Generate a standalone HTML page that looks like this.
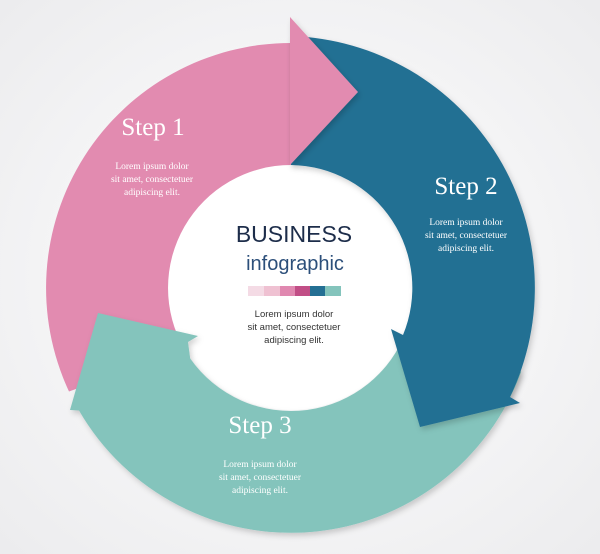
<!DOCTYPE html>
<html><head><meta charset="utf-8"><style>
html,body{margin:0;padding:0;width:600px;height:554px;overflow:hidden;background:#f6f6f7}
svg{display:block}
</style></head><body>
<svg width="600" height="554" viewBox="0 0 600 554" xmlns="http://www.w3.org/2000/svg">
<defs>
<radialGradient id="bg" cx="50%" cy="50%" r="70%"><stop offset="0" stop-color="#ffffff"/><stop offset="1" stop-color="#ececee"/></radialGradient>
<filter id="sh" x="-20%" y="-20%" width="140%" height="140%"><feDropShadow dx="2" dy="3" stdDeviation="3" flood-color="#000" flood-opacity="0.18"/></filter>
</defs>
<rect width="600" height="554" fill="url(#bg)"/>
<circle cx="291" cy="287" r="123" fill="#ffffff"/>
<!-- pink band -->
<path d="M69,391.5 A245 245 0 0 1 291,43 L291,165 A123 123 0 0 0 184.5,349.5 Z" fill="#e28bb0"/>
<!-- teal band with end -->
<path d="M521.2,371.8 A245 245 0 0 1 79,410.5 L70,410 L98,313 L198,336 L188,342 L190.2,358.5 A123 123 0 0 0 406.6,330 Z" fill="#84c4bc" filter="url(#sh)"/>
<!-- blue band with end -->
<path d="M291,36 A252 252 0 0 1 510,397 L520,403 L420,427 L391,329 L403,335 A123 123 0 0 0 291,165 Z" fill="#246f93" filter="url(#sh)"/>
<!-- pink head -->
<polygon points="290,17 358,92 290,165" fill="#e28bb0" filter="url(#sh)"/>

<g font-family="Liberation Serif, serif" fill="#ffffff" text-anchor="middle">
<text x="153" y="135" font-size="25">Step 1</text>
<text x="152" y="169" font-size="9.5">Lorem ipsum dolor</text>
<text x="152" y="182" font-size="9.5">sit amet, consectetuer</text>
<text x="152" y="195" font-size="9.5">adipiscing elit.</text>
<text x="466" y="194" font-size="25">Step 2</text>
<text x="466" y="225" font-size="9.5">Lorem ipsum dolor</text>
<text x="466" y="238" font-size="9.5">sit amet, consectetuer</text>
<text x="466" y="251" font-size="9.5">adipiscing elit.</text>
<text x="260" y="433" font-size="25">Step 3</text>
<text x="260" y="467" font-size="9.5">Lorem ipsum dolor</text>
<text x="260" y="480" font-size="9.5">sit amet, consectetuer</text>
<text x="260" y="493" font-size="9.5">adipiscing elit.</text>
</g>
<g font-family="Liberation Sans, sans-serif" text-anchor="middle">
<text x="294" y="242" font-size="23" fill="#1d2d4a">BUSINESS</text>
<text x="295" y="270" font-size="20" fill="#2c4f7a">infographic</text>
<text x="294" y="317" font-size="9.5" fill="#333">Lorem ipsum dolor</text>
<text x="294" y="330" font-size="9.5" fill="#333">sit amet, consectetuer</text>
<text x="294" y="343" font-size="9.5" fill="#333">adipiscing elit.</text>
</g>
<rect x="248" y="286" width="16" height="10" fill="#f4dbe5"/>
<rect x="264" y="286" width="16" height="10" fill="#efc1d2"/>
<rect x="280" y="286" width="15" height="10" fill="#e088b0"/>
<rect x="295" y="286" width="15" height="10" fill="#c14e86"/>
<rect x="310" y="286" width="15" height="10" fill="#246f93"/>
<rect x="325" y="286" width="16" height="10" fill="#84c4bc"/>
</svg>
</body></html>
